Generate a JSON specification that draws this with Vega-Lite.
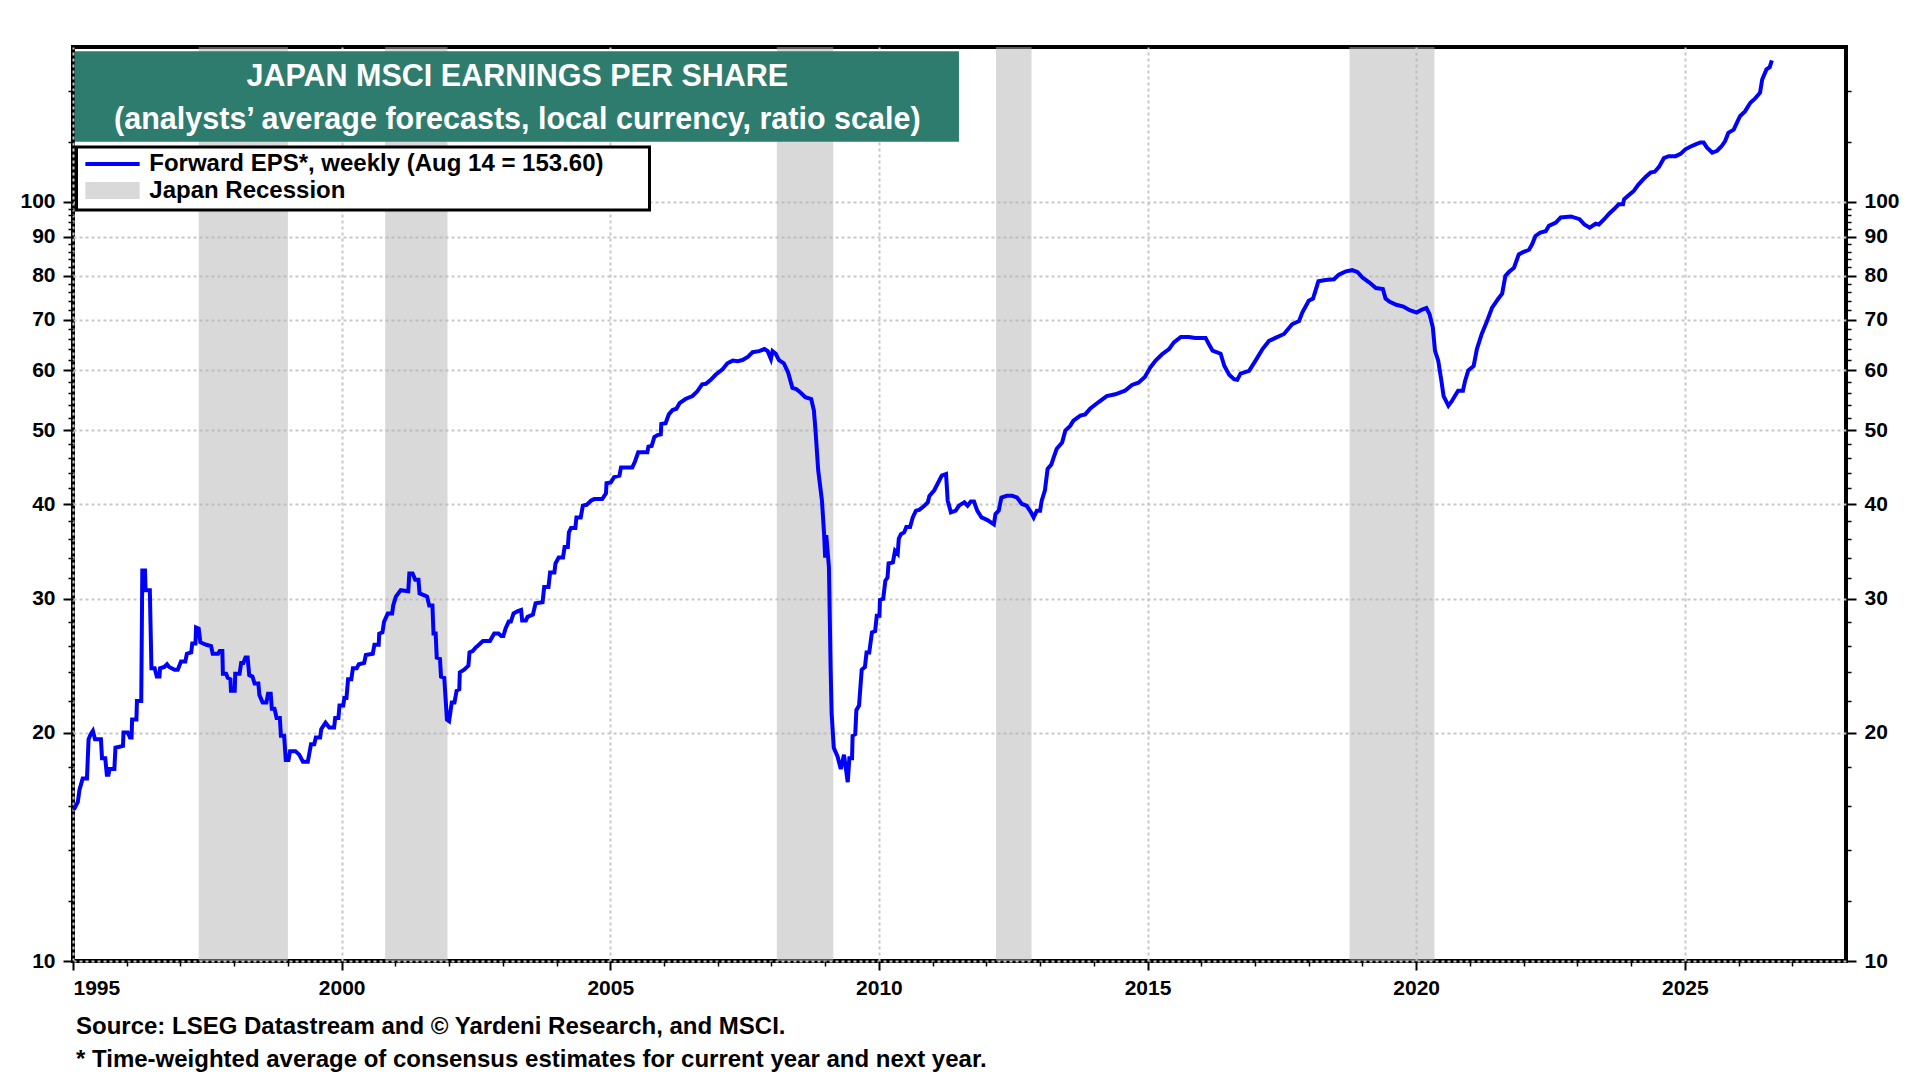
{
  "$schema": "https://vega.github.io/schema/vega-lite/v6.json",
  "width": 1773,
  "height": 914,
  "autosize": {"type": "none"},
  "padding": {"left": 73, "top": 47, "right": 74, "bottom": 119},
  "background": "white",
  "title": {
    "text": [
      "Source: LSEG Datastream and © Yardeni Research, and MSCI.",
      "* Time-weighted average of consensus estimates for current year and next year."
    ],
    "orient": "bottom",
    "anchor": "start",
    "frame": "group",
    "offset": 17,
    "dx": 3,
    "font": "Liberation Sans",
    "fontSize": 24,
    "fontWeight": "bold",
    "lineHeight": 33,
    "color": "black"
  },
  "datasets": {
    "recessions": [
      {"start": 1997.34, "end": 1999.0},
      {"start": 2000.81, "end": 2001.97},
      {"start": 2008.1, "end": 2009.15},
      {"start": 2012.18, "end": 2012.84},
      {"start": 2018.76, "end": 2020.34}
    ],
    "eps": [
      {"t": 1995.0, "v": 15.9}, {"t": 1995.03, "v": 15.9}, {"t": 1995.09, "v": 16.2}, {"t": 1995.12, "v": 16.8},
      {"t": 1995.18, "v": 17.4}, {"t": 1995.26, "v": 17.4}, {"t": 1995.29, "v": 19.6}, {"t": 1995.33, "v": 19.9},
      {"t": 1995.37, "v": 20.1}, {"t": 1995.41, "v": 19.6}, {"t": 1995.52, "v": 19.6}, {"t": 1995.54, "v": 18.5},
      {"t": 1995.6, "v": 18.5}, {"t": 1995.63, "v": 17.6}, {"t": 1995.66, "v": 17.6}, {"t": 1995.68, "v": 17.9},
      {"t": 1995.77, "v": 17.9}, {"t": 1995.79, "v": 19.1}, {"t": 1995.93, "v": 19.2}, {"t": 1995.94, "v": 20.0},
      {"t": 1996.02, "v": 20.0}, {"t": 1996.06, "v": 19.7}, {"t": 1996.09, "v": 19.7}, {"t": 1996.1, "v": 20.8},
      {"t": 1996.18, "v": 20.8}, {"t": 1996.19, "v": 22.0}, {"t": 1996.27, "v": 22.0}, {"t": 1996.29, "v": 32.7},
      {"t": 1996.34, "v": 32.7}, {"t": 1996.35, "v": 30.8}, {"t": 1996.43, "v": 30.8}, {"t": 1996.46, "v": 24.3},
      {"t": 1996.52, "v": 24.3}, {"t": 1996.56, "v": 23.7}, {"t": 1996.61, "v": 23.7}, {"t": 1996.62, "v": 24.3},
      {"t": 1996.7, "v": 24.4}, {"t": 1996.75, "v": 24.6}, {"t": 1996.79, "v": 24.4}, {"t": 1996.89, "v": 24.2},
      {"t": 1996.95, "v": 24.2}, {"t": 1997.01, "v": 24.8}, {"t": 1997.09, "v": 24.8}, {"t": 1997.12, "v": 25.4},
      {"t": 1997.2, "v": 25.5}, {"t": 1997.22, "v": 26.2}, {"t": 1997.28, "v": 26.2}, {"t": 1997.29, "v": 27.5},
      {"t": 1997.34, "v": 27.4}, {"t": 1997.37, "v": 26.3}, {"t": 1997.48, "v": 26.1}, {"t": 1997.57, "v": 26.0},
      {"t": 1997.6, "v": 25.4}, {"t": 1997.7, "v": 25.4}, {"t": 1997.73, "v": 25.6}, {"t": 1997.78, "v": 25.6},
      {"t": 1997.79, "v": 23.9}, {"t": 1997.85, "v": 23.9}, {"t": 1997.88, "v": 23.6}, {"t": 1997.93, "v": 23.5},
      {"t": 1997.94, "v": 22.7}, {"t": 1998.01, "v": 22.7}, {"t": 1998.02, "v": 23.9}, {"t": 1998.1, "v": 23.9},
      {"t": 1998.13, "v": 24.7}, {"t": 1998.17, "v": 24.7}, {"t": 1998.21, "v": 25.1}, {"t": 1998.25, "v": 25.1},
      {"t": 1998.28, "v": 23.8}, {"t": 1998.34, "v": 23.7}, {"t": 1998.38, "v": 23.2}, {"t": 1998.45, "v": 23.2},
      {"t": 1998.47, "v": 22.4}, {"t": 1998.53, "v": 21.9}, {"t": 1998.6, "v": 21.9}, {"t": 1998.63, "v": 22.5},
      {"t": 1998.68, "v": 22.5}, {"t": 1998.7, "v": 21.5}, {"t": 1998.75, "v": 21.5}, {"t": 1998.79, "v": 20.9},
      {"t": 1998.85, "v": 20.9}, {"t": 1998.87, "v": 19.8}, {"t": 1998.93, "v": 19.8}, {"t": 1998.96, "v": 18.4},
      {"t": 1999.01, "v": 18.4}, {"t": 1999.04, "v": 18.9}, {"t": 1999.14, "v": 18.9}, {"t": 1999.21, "v": 18.7},
      {"t": 1999.28, "v": 18.3}, {"t": 1999.37, "v": 18.3}, {"t": 1999.43, "v": 19.3}, {"t": 1999.49, "v": 19.3},
      {"t": 1999.52, "v": 19.7}, {"t": 1999.6, "v": 19.7}, {"t": 1999.62, "v": 20.2}, {"t": 1999.7, "v": 20.6},
      {"t": 1999.77, "v": 20.3}, {"t": 1999.86, "v": 20.3}, {"t": 1999.88, "v": 20.9}, {"t": 1999.94, "v": 20.9},
      {"t": 1999.96, "v": 21.7}, {"t": 2000.03, "v": 21.7}, {"t": 2000.05, "v": 22.2}, {"t": 2000.09, "v": 22.2},
      {"t": 2000.12, "v": 23.5}, {"t": 2000.18, "v": 23.5}, {"t": 2000.21, "v": 24.3}, {"t": 2000.28, "v": 24.3},
      {"t": 2000.32, "v": 24.6}, {"t": 2000.42, "v": 24.7}, {"t": 2000.45, "v": 25.3}, {"t": 2000.58, "v": 25.4},
      {"t": 2000.61, "v": 26.1}, {"t": 2000.69, "v": 26.1}, {"t": 2000.7, "v": 27.0}, {"t": 2000.76, "v": 27.1},
      {"t": 2000.79, "v": 28.0}, {"t": 2000.86, "v": 28.7}, {"t": 2000.94, "v": 28.7}, {"t": 2000.96, "v": 29.4},
      {"t": 2001.01, "v": 30.2}, {"t": 2001.1, "v": 30.8}, {"t": 2001.24, "v": 30.7}, {"t": 2001.26, "v": 32.4},
      {"t": 2001.32, "v": 32.4}, {"t": 2001.37, "v": 31.8}, {"t": 2001.43, "v": 31.8}, {"t": 2001.45, "v": 30.5},
      {"t": 2001.55, "v": 30.3}, {"t": 2001.59, "v": 30.2}, {"t": 2001.63, "v": 29.4}, {"t": 2001.69, "v": 29.4},
      {"t": 2001.71, "v": 27.0}, {"t": 2001.75, "v": 27.0}, {"t": 2001.77, "v": 25.1}, {"t": 2001.83, "v": 25.0},
      {"t": 2001.85, "v": 23.7}, {"t": 2001.91, "v": 23.6}, {"t": 2001.96, "v": 20.8}, {"t": 2002.0, "v": 20.7},
      {"t": 2002.05, "v": 21.9}, {"t": 2002.1, "v": 21.9}, {"t": 2002.14, "v": 22.7}, {"t": 2002.19, "v": 22.8},
      {"t": 2002.2, "v": 24.0}, {"t": 2002.28, "v": 24.2}, {"t": 2002.36, "v": 24.5}, {"t": 2002.38, "v": 25.5},
      {"t": 2002.44, "v": 25.6}, {"t": 2002.5, "v": 25.9}, {"t": 2002.53, "v": 26.0}, {"t": 2002.63, "v": 26.4},
      {"t": 2002.76, "v": 26.4}, {"t": 2002.84, "v": 27.0}, {"t": 2002.92, "v": 27.0}, {"t": 2002.97, "v": 26.8},
      {"t": 2003.01, "v": 26.8}, {"t": 2003.05, "v": 27.4}, {"t": 2003.11, "v": 28.0}, {"t": 2003.15, "v": 28.0},
      {"t": 2003.2, "v": 28.7}, {"t": 2003.28, "v": 28.9}, {"t": 2003.34, "v": 29.0}, {"t": 2003.36, "v": 28.1},
      {"t": 2003.43, "v": 28.1}, {"t": 2003.46, "v": 28.4}, {"t": 2003.56, "v": 28.6}, {"t": 2003.61, "v": 29.6},
      {"t": 2003.74, "v": 29.7}, {"t": 2003.77, "v": 31.1}, {"t": 2003.85, "v": 31.1}, {"t": 2003.88, "v": 32.5},
      {"t": 2003.96, "v": 32.5}, {"t": 2003.98, "v": 33.4}, {"t": 2004.04, "v": 34.0}, {"t": 2004.12, "v": 34.0},
      {"t": 2004.15, "v": 35.1}, {"t": 2004.21, "v": 35.1}, {"t": 2004.23, "v": 36.7}, {"t": 2004.27, "v": 37.2},
      {"t": 2004.35, "v": 37.2}, {"t": 2004.37, "v": 38.4}, {"t": 2004.45, "v": 38.4}, {"t": 2004.49, "v": 39.8},
      {"t": 2004.56, "v": 39.9}, {"t": 2004.64, "v": 40.4}, {"t": 2004.7, "v": 40.6}, {"t": 2004.85, "v": 40.6},
      {"t": 2004.92, "v": 41.3}, {"t": 2004.93, "v": 42.6}, {"t": 2005.01, "v": 42.7}, {"t": 2005.07, "v": 43.4},
      {"t": 2005.17, "v": 43.6}, {"t": 2005.2, "v": 44.7}, {"t": 2005.41, "v": 44.7}, {"t": 2005.46, "v": 45.5},
      {"t": 2005.52, "v": 46.8}, {"t": 2005.69, "v": 46.8}, {"t": 2005.71, "v": 47.6}, {"t": 2005.77, "v": 47.7},
      {"t": 2005.82, "v": 49.0}, {"t": 2005.88, "v": 49.3}, {"t": 2005.94, "v": 49.4}, {"t": 2005.95, "v": 51.0},
      {"t": 2006.03, "v": 51.1}, {"t": 2006.09, "v": 52.5}, {"t": 2006.16, "v": 53.2}, {"t": 2006.23, "v": 53.4},
      {"t": 2006.29, "v": 54.3}, {"t": 2006.4, "v": 55.0}, {"t": 2006.53, "v": 55.5}, {"t": 2006.62, "v": 56.3},
      {"t": 2006.71, "v": 57.5}, {"t": 2006.78, "v": 57.6}, {"t": 2006.87, "v": 58.3}, {"t": 2006.96, "v": 59.2},
      {"t": 2007.09, "v": 60.2}, {"t": 2007.18, "v": 61.3}, {"t": 2007.28, "v": 61.8}, {"t": 2007.37, "v": 61.7},
      {"t": 2007.46, "v": 61.9}, {"t": 2007.56, "v": 62.5}, {"t": 2007.65, "v": 63.4}, {"t": 2007.77, "v": 63.6},
      {"t": 2007.87, "v": 64.0}, {"t": 2007.93, "v": 63.6}, {"t": 2007.99, "v": 62.1}, {"t": 2008.02, "v": 63.6},
      {"t": 2008.08, "v": 63.1}, {"t": 2008.14, "v": 61.9}, {"t": 2008.23, "v": 61.3}, {"t": 2008.31, "v": 59.6},
      {"t": 2008.39, "v": 56.9}, {"t": 2008.46, "v": 56.7}, {"t": 2008.54, "v": 56.1}, {"t": 2008.63, "v": 55.3},
      {"t": 2008.74, "v": 55.0}, {"t": 2008.79, "v": 53.1}, {"t": 2008.82, "v": 50.0}, {"t": 2008.87, "v": 44.3},
      {"t": 2008.94, "v": 40.4}, {"t": 2008.98, "v": 36.5}, {"t": 2009.0, "v": 34.0}, {"t": 2009.02, "v": 36.4},
      {"t": 2009.07, "v": 33.0}, {"t": 2009.1, "v": 24.6}, {"t": 2009.12, "v": 21.2}, {"t": 2009.16, "v": 19.1},
      {"t": 2009.23, "v": 18.6}, {"t": 2009.29, "v": 17.9}, {"t": 2009.35, "v": 18.7}, {"t": 2009.42, "v": 17.2},
      {"t": 2009.45, "v": 18.5}, {"t": 2009.5, "v": 18.5}, {"t": 2009.51, "v": 19.8}, {"t": 2009.56, "v": 19.9},
      {"t": 2009.58, "v": 21.4}, {"t": 2009.63, "v": 21.7}, {"t": 2009.68, "v": 24.2}, {"t": 2009.74, "v": 24.4},
      {"t": 2009.77, "v": 25.5}, {"t": 2009.82, "v": 25.5}, {"t": 2009.87, "v": 27.1}, {"t": 2009.93, "v": 27.2},
      {"t": 2009.96, "v": 28.5}, {"t": 2010.01, "v": 28.5}, {"t": 2010.02, "v": 29.9}, {"t": 2010.08, "v": 30.0},
      {"t": 2010.12, "v": 31.7}, {"t": 2010.16, "v": 32.0}, {"t": 2010.18, "v": 33.4}, {"t": 2010.26, "v": 33.5},
      {"t": 2010.3, "v": 34.7}, {"t": 2010.35, "v": 34.4}, {"t": 2010.37, "v": 36.0}, {"t": 2010.41, "v": 36.5},
      {"t": 2010.47, "v": 36.7}, {"t": 2010.51, "v": 37.3}, {"t": 2010.58, "v": 37.3}, {"t": 2010.63, "v": 38.4},
      {"t": 2010.69, "v": 39.2}, {"t": 2010.75, "v": 39.3}, {"t": 2010.83, "v": 39.7}, {"t": 2010.91, "v": 40.2},
      {"t": 2010.94, "v": 41.0}, {"t": 2011.03, "v": 41.7}, {"t": 2011.09, "v": 42.5}, {"t": 2011.17, "v": 43.6},
      {"t": 2011.25, "v": 43.8}, {"t": 2011.28, "v": 40.4}, {"t": 2011.34, "v": 39.0}, {"t": 2011.43, "v": 39.2},
      {"t": 2011.49, "v": 39.8}, {"t": 2011.59, "v": 40.2}, {"t": 2011.65, "v": 39.8}, {"t": 2011.71, "v": 40.3},
      {"t": 2011.77, "v": 40.3}, {"t": 2011.83, "v": 39.2}, {"t": 2011.91, "v": 38.4}, {"t": 2012.02, "v": 38.1},
      {"t": 2012.14, "v": 37.6}, {"t": 2012.17, "v": 38.8}, {"t": 2012.23, "v": 39.2}, {"t": 2012.28, "v": 40.8},
      {"t": 2012.38, "v": 41.0}, {"t": 2012.48, "v": 41.0}, {"t": 2012.57, "v": 40.8}, {"t": 2012.66, "v": 40.0},
      {"t": 2012.75, "v": 39.8}, {"t": 2012.83, "v": 39.0}, {"t": 2012.88, "v": 38.4}, {"t": 2012.94, "v": 39.2},
      {"t": 2013.0, "v": 39.2}, {"t": 2013.03, "v": 40.4}, {"t": 2013.09, "v": 41.7}, {"t": 2013.14, "v": 44.5},
      {"t": 2013.21, "v": 45.1}, {"t": 2013.25, "v": 46.0}, {"t": 2013.31, "v": 47.3}, {"t": 2013.41, "v": 48.2},
      {"t": 2013.47, "v": 50.0}, {"t": 2013.56, "v": 50.7}, {"t": 2013.62, "v": 51.5}, {"t": 2013.75, "v": 52.3},
      {"t": 2013.84, "v": 52.5}, {"t": 2013.93, "v": 53.4}, {"t": 2014.09, "v": 54.5}, {"t": 2014.24, "v": 55.5},
      {"t": 2014.4, "v": 55.8}, {"t": 2014.58, "v": 56.4}, {"t": 2014.71, "v": 57.4}, {"t": 2014.83, "v": 57.8},
      {"t": 2014.95, "v": 58.8}, {"t": 2015.05, "v": 60.5}, {"t": 2015.15, "v": 61.8}, {"t": 2015.27, "v": 63.0},
      {"t": 2015.4, "v": 64.0}, {"t": 2015.49, "v": 65.3}, {"t": 2015.62, "v": 66.4}, {"t": 2015.77, "v": 66.4},
      {"t": 2015.89, "v": 66.2}, {"t": 2016.08, "v": 66.2}, {"t": 2016.14, "v": 65.0}, {"t": 2016.21, "v": 63.7},
      {"t": 2016.36, "v": 63.1}, {"t": 2016.43, "v": 60.8}, {"t": 2016.52, "v": 59.2}, {"t": 2016.61, "v": 58.4},
      {"t": 2016.67, "v": 58.3}, {"t": 2016.73, "v": 59.4}, {"t": 2016.89, "v": 59.9}, {"t": 2017.01, "v": 61.8},
      {"t": 2017.14, "v": 64.0}, {"t": 2017.26, "v": 65.6}, {"t": 2017.38, "v": 66.2}, {"t": 2017.54, "v": 67.0},
      {"t": 2017.69, "v": 69.0}, {"t": 2017.82, "v": 69.7}, {"t": 2017.88, "v": 71.5}, {"t": 2018.0, "v": 74.1},
      {"t": 2018.08, "v": 74.6}, {"t": 2018.18, "v": 78.6}, {"t": 2018.31, "v": 78.9}, {"t": 2018.47, "v": 79.1},
      {"t": 2018.56, "v": 80.2}, {"t": 2018.69, "v": 81.0}, {"t": 2018.81, "v": 81.3}, {"t": 2018.91, "v": 80.8},
      {"t": 2019.0, "v": 79.5}, {"t": 2019.13, "v": 78.3}, {"t": 2019.25, "v": 77.0}, {"t": 2019.38, "v": 76.8},
      {"t": 2019.43, "v": 74.6}, {"t": 2019.5, "v": 73.9}, {"t": 2019.63, "v": 73.2}, {"t": 2019.76, "v": 72.8},
      {"t": 2019.88, "v": 72.0}, {"t": 2020.01, "v": 71.5}, {"t": 2020.1, "v": 72.1}, {"t": 2020.19, "v": 72.5},
      {"t": 2020.25, "v": 71.1}, {"t": 2020.31, "v": 68.3}, {"t": 2020.35, "v": 63.7}, {"t": 2020.41, "v": 61.8},
      {"t": 2020.47, "v": 58.1}, {"t": 2020.51, "v": 55.5}, {"t": 2020.6, "v": 53.9}, {"t": 2020.66, "v": 54.6},
      {"t": 2020.72, "v": 55.5}, {"t": 2020.78, "v": 56.4}, {"t": 2020.87, "v": 56.4}, {"t": 2020.91, "v": 58.1},
      {"t": 2020.97, "v": 60.0}, {"t": 2021.07, "v": 60.8}, {"t": 2021.13, "v": 64.0}, {"t": 2021.22, "v": 67.0},
      {"t": 2021.31, "v": 69.4}, {"t": 2021.41, "v": 72.5}, {"t": 2021.53, "v": 74.6}, {"t": 2021.6, "v": 75.7},
      {"t": 2021.66, "v": 79.9}, {"t": 2021.73, "v": 80.9}, {"t": 2021.82, "v": 81.9}, {"t": 2021.91, "v": 85.3},
      {"t": 2021.98, "v": 85.8}, {"t": 2022.1, "v": 86.5}, {"t": 2022.16, "v": 88.0}, {"t": 2022.22, "v": 90.2},
      {"t": 2022.31, "v": 91.1}, {"t": 2022.41, "v": 91.5}, {"t": 2022.47, "v": 93.0}, {"t": 2022.6, "v": 93.9},
      {"t": 2022.69, "v": 95.4}, {"t": 2022.88, "v": 95.7}, {"t": 2023.04, "v": 94.9}, {"t": 2023.13, "v": 93.4},
      {"t": 2023.23, "v": 92.5}, {"t": 2023.34, "v": 93.6}, {"t": 2023.4, "v": 93.4}, {"t": 2023.5, "v": 94.9},
      {"t": 2023.59, "v": 96.5}, {"t": 2023.68, "v": 97.8}, {"t": 2023.77, "v": 99.3}, {"t": 2023.85, "v": 99.3},
      {"t": 2023.87, "v": 100.8}, {"t": 2023.96, "v": 102.1}, {"t": 2024.05, "v": 103.4}, {"t": 2024.14, "v": 105.5},
      {"t": 2024.27, "v": 107.9}, {"t": 2024.36, "v": 109.3}, {"t": 2024.44, "v": 109.6}, {"t": 2024.52, "v": 111.2},
      {"t": 2024.61, "v": 114.2}, {"t": 2024.7, "v": 114.9}, {"t": 2024.83, "v": 114.9}, {"t": 2024.92, "v": 115.7},
      {"t": 2025.01, "v": 117.3}, {"t": 2025.11, "v": 118.3}, {"t": 2025.2, "v": 119.1}, {"t": 2025.29, "v": 119.8},
      {"t": 2025.35, "v": 119.8}, {"t": 2025.41, "v": 118.0}, {"t": 2025.51, "v": 116.1}, {"t": 2025.6, "v": 116.8},
      {"t": 2025.68, "v": 118.3}, {"t": 2025.75, "v": 120.3}, {"t": 2025.81, "v": 123.3}, {"t": 2025.91, "v": 124.5},
      {"t": 2025.97, "v": 127.2}, {"t": 2026.03, "v": 129.8}, {"t": 2026.12, "v": 131.6}, {"t": 2026.22, "v": 135.1},
      {"t": 2026.31, "v": 136.9}, {"t": 2026.4, "v": 139.3}, {"t": 2026.44, "v": 145.0}, {"t": 2026.52, "v": 149.5},
      {"t": 2026.58, "v": 150.5}, {"t": 2026.62, "v": 153.6}
    ]
  },
  "config": {
    "font": "Liberation Sans",
    "view": {"stroke": "black", "strokeWidth": 4},
    "axis": {
      "labelFont": "Liberation Sans",
      "labelFontWeight": "bold",
      "labelFontSize": 21,
      "labelColor": "black",
      "tickColor": "black",
      "domain": false,
      "gridColor": "#c8c8c8",
      "gridDash": [3, 3],
      "gridWidth": 2
    }
  },
  "resolve": {"axis": {"x": "independent", "y": "independent"}},
  "layer": [
    {
      "data": {"name": "recessions"},
      "mark": {"type": "rect", "color": "#b3b3b3", "opacity": 0.5},
      "encoding": {
        "x": {
          "field": "start", "type": "quantitative",
          "scale": {"domain": [1995, 2028], "nice": false, "zero": false},
          "axis": {
            "title": null, "orient": "bottom", "values": [1995, 2000, 2005, 2010, 2015, 2020, 2025],
            "format": "d", "tickSize": 9, "tickWidth": 2, "labelPadding": 7, "grid": true
          }
        },
        "x2": {"field": "end"}
      }
    },
    {
      "data": {"name": "eps"},
      "mark": {"type": "line", "color": "#0000ff", "strokeWidth": 4},
      "encoding": {
        "x": {
          "field": "t", "type": "quantitative",
          "scale": {"domain": [1995, 2028], "nice": false, "zero": false},
          "axis": {
            "title": null, "orient": "bottom",
            "values": [1996, 1997, 1998, 1999, 2001, 2002, 2003, 2004, 2006, 2007, 2008, 2009, 2011, 2012, 2013, 2014, 2016, 2017, 2018, 2019, 2021, 2022, 2023, 2024, 2026, 2027],
            "tickSize": 5, "tickWidth": 1.5, "labels": false, "grid": false
          }
        },
        "y": {
          "field": "v", "type": "quantitative",
          "scale": {"type": "log", "domain": [10, 160], "nice": false, "zero": false},
          "axis": {
            "title": null, "orient": "left", "values": [10, 20, 30, 40, 50, 60, 70, 80, 90, 100],
            "format": "d", "tickSize": 10, "tickWidth": 2, "labelPadding": 8, "grid": true
          }
        }
      }
    },
    {
      "data": {"values": [{}]},
      "mark": {"type": "rect", "color": "#2e7c6e"},
      "encoding": {
        "x": {"datum": 1995.03, "scale": {"domain": [1995, 2028], "nice": false, "zero": false}, "axis": null},
        "x2": {"datum": 2011.49},
        "y": {
          "datum": 158,
          "scale": {"type": "log", "domain": [10, 160], "nice": false, "zero": false},
          "axis": {
            "title": null, "orient": "left",
            "values": [12, 14, 16, 18, 22, 24, 26, 28, 32, 34, 36, 38, 42, 44, 46, 48, 52, 54, 56, 58, 62, 64, 66, 68, 72, 74, 76, 78, 82, 84, 86, 88, 92, 94, 96, 98, 120, 140],
            "tickSize": 5, "tickWidth": 1.5, "labels": false, "grid": false
          }
        },
        "y2": {"datum": 120}
      }
    },
    {
      "data": {"values": [{}]},
      "mark": {"type": "text", "text": "JAPAN MSCI EARNINGS PER SHARE", "color": "white", "fontSize": 30.5, "fontWeight": "bold", "align": "center", "baseline": "alphabetic"},
      "encoding": {
        "x": {"datum": 2003.27, "scale": {"domain": [1995, 2028], "nice": false, "zero": false}, "axis": null},
        "y": {
          "datum": 142.1,
          "scale": {"type": "log", "domain": [10, 160], "nice": false, "zero": false},
          "axis": {
            "title": null, "orient": "right", "values": [10, 20, 30, 40, 50, 60, 70, 80, 90, 100],
            "format": "d", "tickSize": 10, "tickWidth": 2, "labelPadding": 8, "grid": false
          }
        }
      }
    },
    {
      "data": {"values": [{}]},
      "mark": {"type": "text", "text": "(analysts’ average forecasts, local currency, ratio scale)", "color": "white", "fontSize": 30.5, "fontWeight": "bold", "align": "center", "baseline": "alphabetic"},
      "encoding": {
        "x": {"datum": 2003.27, "scale": {"domain": [1995, 2028], "nice": false, "zero": false}, "axis": null},
        "y": {
          "datum": 124.8,
          "scale": {"type": "log", "domain": [10, 160], "nice": false, "zero": false},
          "axis": {
            "title": null, "orient": "right",
            "values": [12, 14, 16, 18, 22, 24, 26, 28, 32, 34, 36, 38, 42, 44, 46, 48, 52, 54, 56, 58, 62, 64, 66, 68, 72, 74, 76, 78, 82, 84, 86, 88, 92, 94, 96, 98, 120, 140],
            "tickSize": 5, "tickWidth": 1.5, "labels": false, "grid": false
          }
        }
      }
    },
    {
      "data": {"values": [{}]},
      "mark": {"type": "rect", "fill": "white", "stroke": "black", "strokeWidth": 3},
      "encoding": {
        "x": {"datum": 1995.065, "scale": {"domain": [1995, 2028], "nice": false, "zero": false}, "axis": null},
        "x2": {"datum": 2005.73},
        "y": {"datum": 118.1, "scale": {"type": "log", "domain": [10, 160], "nice": false, "zero": false}, "axis": null},
        "y2": {"datum": 97.6}
      }
    },
    {
      "data": {"values": [{}]},
      "mark": {"type": "rule", "color": "#0000ff", "strokeWidth": 4},
      "encoding": {
        "x": {"datum": 1995.23, "scale": {"domain": [1995, 2028], "nice": false, "zero": false}, "axis": null},
        "x2": {"datum": 1996.24},
        "y": {"datum": 112.2, "scale": {"type": "log", "domain": [10, 160], "nice": false, "zero": false}, "axis": null}
      }
    },
    {
      "data": {"values": [{}]},
      "mark": {"type": "rect", "color": "#d9d9d9"},
      "encoding": {
        "x": {"datum": 1995.23, "scale": {"domain": [1995, 2028], "nice": false, "zero": false}, "axis": null},
        "x2": {"datum": 1996.24},
        "y": {"datum": 106.2, "scale": {"type": "log", "domain": [10, 160], "nice": false, "zero": false}, "axis": null},
        "y2": {"datum": 100.9}
      }
    },
    {
      "data": {"values": [{}]},
      "mark": {"type": "text", "text": "Forward EPS*, weekly (Aug 14 = 153.60)", "color": "black", "fontSize": 24, "fontWeight": "bold", "align": "left", "baseline": "alphabetic"},
      "encoding": {
        "x": {"datum": 1996.42, "scale": {"domain": [1995, 2028], "nice": false, "zero": false}, "axis": null},
        "y": {"datum": 109.8, "scale": {"type": "log", "domain": [10, 160], "nice": false, "zero": false}, "axis": null}
      }
    },
    {
      "data": {"values": [{}]},
      "mark": {"type": "text", "text": "Japan Recession", "color": "black", "fontSize": 24, "fontWeight": "bold", "align": "left", "baseline": "alphabetic"},
      "encoding": {
        "x": {"datum": 1996.42, "scale": {"domain": [1995, 2028], "nice": false, "zero": false}, "axis": null},
        "y": {"datum": 101.2, "scale": {"type": "log", "domain": [10, 160], "nice": false, "zero": false}, "axis": null}
      }
    }
  ]
}
